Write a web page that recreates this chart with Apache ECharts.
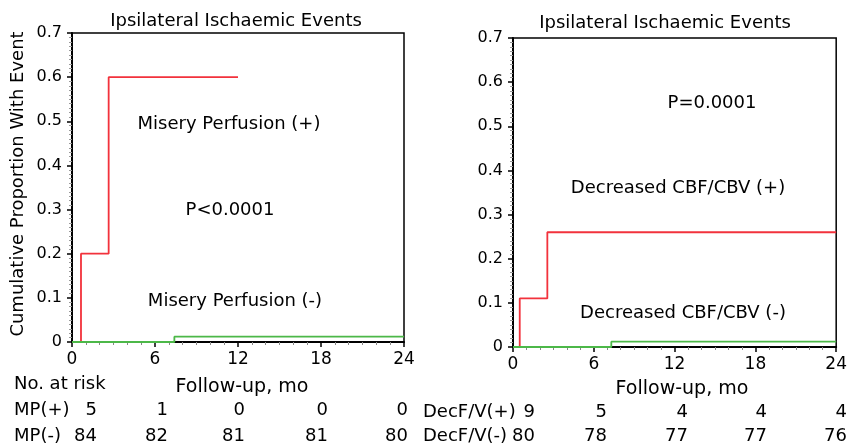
<!DOCTYPE html>
<html>
<head>
<meta charset="utf-8">
<script src="https://cdn.jsdelivr.net/npm/echarts@6/dist/echarts.min.js"></script>
<style>
html, body { margin: 0; padding: 0; background: #fff; }
#chart { width: 850px; height: 446px; }
</style>
</head>
<body>
<div id="chart"></div>
<script>
// Kaplan-Meier steps (months, cumulative proportion)
const mpPosT = [0, 0.65, 2.65, 12]
const mpPosV = [0, 0.2, 0.6, 0.6]
const mpNegT = [0, 7.4, 24]
const mpNegV = [0, 0.012, 0.012]
const decPosT = [0, 0.5, 2.55, 24]
const decPosV = [0, 0.11, 0.26, 0.26]
const decNegT = [0, 7.3, 24]
const decNegV = [0, 0.012, 0.012]

// number at risk
const riskMonths = [0, 6, 12, 18, 24]
const riskMPpos = [5, 1, 0, 0, 0]
const riskMPneg = [84, 82, 81, 81, 80]
const riskDecPos = [9, 5, 4, 4, 4]
const riskDecNeg = [80, 78, 77, 77, 76]

const FONT = 'DejaVu Sans'
const RED = '#f2323c'
const GREEN = '#4cb848'

function pairs(t, v) {
  return t.map((x, i) => [x, v[i]])
}

function xAxisOf(gi) {
  return {
    gridIndex: gi,
    type: 'value',
    min: 0,
    max: 24,
    interval: 6,
    axisLine: { show: true, onZero: false, lineStyle: { color: '#000', width: 2 } },
    axisTick: { show: true, length: 5, lineStyle: { color: '#000', width: 1.5 } },
    minorTick: { show: true, splitNumber: 6, length: 3, lineStyle: { color: '#888' } },
    splitLine: { show: false },
    axisLabel: { color: '#000', fontSize: 17, fontFamily: FONT, margin: 9 },
  }
}

function yAxisOf(gi) {
  return {
    gridIndex: gi,
    type: 'value',
    min: 0,
    max: 0.7,
    interval: 0.1,
    axisLine: { show: true, onZero: false, lineStyle: { color: '#000', width: 2 } },
    axisTick: { show: true, length: 5, lineStyle: { color: '#000', width: 1.5 } },
    minorTick: { show: true, splitNumber: 10, length: 3, lineStyle: { color: '#999' } },
    splitLine: { show: false },
    axisLabel: {
      color: '#000',
      fontSize: 16,
      fontFamily: FONT,
      margin: 10,
      formatter: v => (v === 0 ? '0' : v.toFixed(1)),
    },
  }
}

function stepLine(name, gi, t, v, color) {
  return {
    name: name,
    type: 'line',
    xAxisIndex: gi,
    yAxisIndex: gi,
    step: 'end',
    showSymbol: false,
    data: pairs(t, v),
    lineStyle: { color: color, width: 1.8 },
    itemStyle: { color: color },
    animation: false,
  }
}

function txt(x, y, text, size, align, extra) {
  return Object.assign({
    type: 'text',
    x: x,
    y: y,
    style: {
      text: text,
      fill: '#000',
      font: size + 'px "' + FONT + '"',
      align: align || 'center',
      verticalAlign: 'middle',
    },
  }, extra || {})
}

const chart = echarts.init(document.getElementById('chart'))

chart.setOption({
  animation: false,
  grid: [
    { left: 72, top: 33, width: 332, height: 309, show: true, borderColor: '#000', borderWidth: 1.5 },
    { left: 513, top: 38, width: 325, height: 309, show: true, borderColor: '#000', borderWidth: 1.5 },
  ],
  xAxis: [xAxisOf(0), xAxisOf(1)],
  yAxis: [yAxisOf(0), yAxisOf(1)],
  series: [
    stepLine('MP(+)', 0, mpPosT, mpPosV, RED),
    stepLine('MP(-)', 0, mpNegT, mpNegV, GREEN),
    stepLine('DecF/V(+)', 1, decPosT, decPosV, RED),
    stepLine('DecF/V(-)', 1, decNegT, decNegV, GREEN),
  ],
})

// texts; risk numbers placed under the month columns
const riskRightLeft = [97, 168, 245, 328, 408]
const riskRightRight = [535, 607, 688, 767, 847]

const g = [
  txt(236, 21, 'Ipsilateral Ischaemic Events', 18),
  txt(665, 23, 'Ipsilateral Ischaemic Events', 18),
  txt(18, 184, 'Cumulative Proportion With Event', 18, 'center', { rotation: Math.PI / 2 }),
  txt(229, 124, 'Misery Perfusion (+)', 18),
  txt(230, 210, 'P<0.0001', 18),
  txt(235, 301, 'Misery Perfusion (-)', 18),
  txt(712, 103, 'P=0.0001', 18),
  txt(678, 188, 'Decreased CBF/CBV (+)', 18),
  txt(683, 313, 'Decreased CBF/CBV (-)', 18),
  txt(242, 387, 'Follow-up, mo', 19),
  txt(682, 389, 'Follow-up, mo', 19),
  txt(14, 384, 'No. at risk', 18, 'left'),
  txt(14, 410, 'MP(+)', 18, 'left'),
  txt(14, 436, 'MP(-)', 18, 'left'),
  txt(423, 412, 'DecF/V(+)', 18, 'left'),
  txt(423, 436, 'DecF/V(-)', 18, 'left'),
]
riskMonths.forEach((m, i) => {
  g.push(txt(riskRightLeft[i], 410, String(riskMPpos[i]), 18, 'right'))
  g.push(txt(riskRightLeft[i], 436, String(riskMPneg[i]), 18, 'right'))
  g.push(txt(riskRightRight[i], 412, String(riskDecPos[i]), 18, 'right'))
  g.push(txt(riskRightRight[i], 436, String(riskDecNeg[i]), 18, 'right'))
})
chart.setOption({ graphic: g })
</script>
</body>
</html>
